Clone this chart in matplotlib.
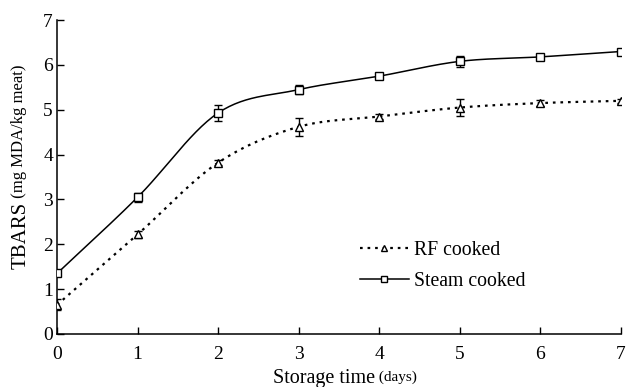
import numpy as np
import matplotlib
matplotlib.use("Agg")
import matplotlib.pyplot as plt
from matplotlib.lines import Line2D

days = [0, 1, 2, 3, 4, 5, 6, 7]
rf_cooked = [0.65, 2.22, 3.82, 4.62, 4.85, 5.05, 5.15, 5.20]
rf_err = [0.12, 0.08, 0.05, 0.20, 0.06, 0.18, 0.06, 0.04]
steam_cooked = [1.35, 3.05, 4.93, 5.45, 5.75, 6.08, 6.18, 6.30]
steam_err = [0.05, 0.10, 0.18, 0.10, 0.05, 0.12, 0.05, 0.06]

plt.rcParams['font.family'] = ['Liberation Serif', 'DejaVu Serif']


def smooth(x, y, n=30):
    # Catmull-Rom spline through the data points (like spreadsheet "smoothed line")
    x = np.asarray(x, float); y = np.asarray(y, float)
    P = np.column_stack([x, y])
    P = np.vstack([2 * P[0] - P[1], P, 2 * P[-1] - P[-2]])
    out = []
    for i in range(1, len(P) - 2):
        p0, p1, p2, p3 = P[i - 1], P[i], P[i + 1], P[i + 2]
        t = np.linspace(0, 1, n)[:, None]
        seg = 0.5 * ((2 * p1) + (-p0 + p2) * t + (2 * p0 - 5 * p1 + 4 * p2 - p3) * t ** 2
                     + (-p0 + 3 * p1 - 3 * p2 + p3) * t ** 3)
        out.append(seg if i == 1 else seg[1:])
    out = np.vstack(out)
    return out[:, 0], out[:, 1]


fig = plt.figure(figsize=(6.27, 3.87), dpi=100)
ax = fig.add_axes([0.091, 0.137, 0.899, 0.811])

dots = (0, (1.2, 2.2))
sx, sy = smooth(days, rf_cooked)
ax.plot(sx, sy, color='black', lw=1.6, ls=dots)
ax.errorbar(days, rf_cooked, yerr=rf_err, fmt='^', mfc='white', mec='black', ms=6,
            ecolor='black', elinewidth=1, capsize=3.2, capthick=1, zorder=3)
sx, sy = smooth(days, steam_cooked)
ax.plot(sx, sy, color='black', lw=1.1, ls='-')
ax.errorbar(days, steam_cooked, yerr=steam_err, fmt='s', mfc='white', mec='black', ms=6,
            ecolor='black', elinewidth=1, capsize=3.2, capthick=1, zorder=3)

h1 = Line2D([], [], color='black', lw=1.6, ls=dots, marker='^', mfc='white', mec='black', ms=5)
h2 = Line2D([], [], color='black', lw=1.1, ls='-', marker='s', mfc='white', mec='black', ms=5)
ax.legend([h1, h2], ['RF cooked', 'Steam cooked'], frameon=False, fontsize=14.2,
          loc='upper left', bbox_to_anchor=(0.537, 0.297), handlelength=2.5,
          handletextpad=0.25, labelspacing=0.6, borderaxespad=0, borderpad=0)

ax.set_xlim(0, 7)
ax.set_ylim(0, 7)
ax.set_xticks(days)
ax.set_yticks(range(0, 8))
ax.tick_params(direction='in', labelsize=14, length=5, width=1)
ax.tick_params(axis='x', pad=9)
ax.tick_params(axis='y', pad=3)
ax.spines['top'].set_visible(False)
ax.spines['right'].set_visible(False)
for s in ['left', 'bottom']:
    ax.spines[s].set_linewidth(1.1)

xl = ax.set_xlabel('Storage time', fontsize=14.5)
yl = ax.set_ylabel('TBARS', fontsize=15)
ax.xaxis.set_label_coords(0.473, -0.11)
ax.yaxis.set_label_coords(-0.047, 0.315)
ax.annotate(' (days)', xy=(1, 0), xycoords=xl, fontsize=11, ha='left', va='bottom',
            xytext=(0, 2.5), textcoords='offset points')
ax.annotate(' (mg MDA/kg meat)', xy=(1, 1), xycoords=yl, fontsize=12, ha='left',
            va='bottom', rotation=90, rotation_mode='anchor',
            xytext=(-2.5, 0), textcoords='offset points')

fig.savefig('out.png', dpi=100)
